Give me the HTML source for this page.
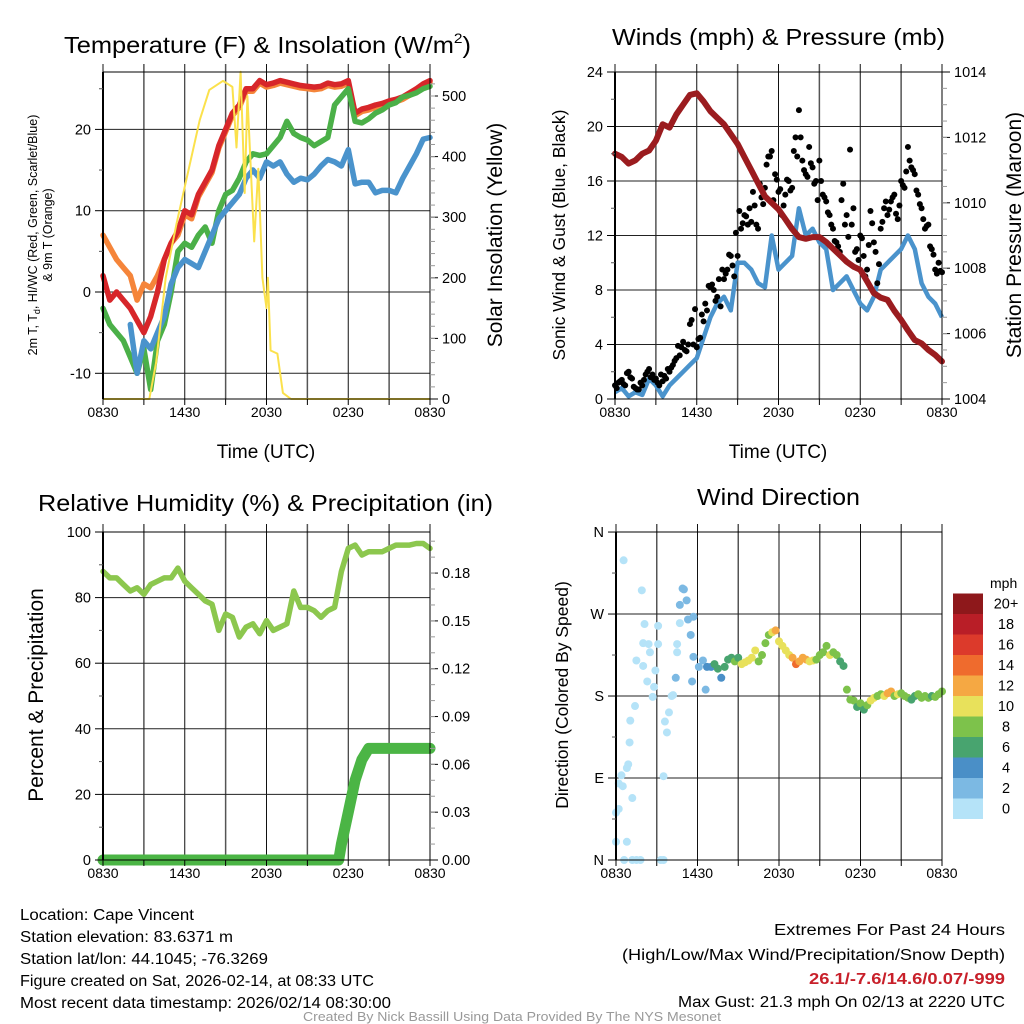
<!DOCTYPE html>
<html><head><meta charset="utf-8"><style>
html,body{margin:0;padding:0;background:#fff;}
svg{display:block;font-family:"Liberation Sans",sans-serif;}
.nar{font-family:"Liberation Sans Narrow","Liberation Sans",sans-serif;}
</style></head><body>
<svg id="fig" width="1024" height="1024" viewBox="0 0 1024 1024" xmlns="http://www.w3.org/2000/svg">
<rect width="1024" height="1024" fill="#fff"/>
<g id="layer-grid"></g>
<g id="layer-data"></g>
<g id="layer-axes"></g>
<!-- titles -->
<text x="64" y="53" font-size="23" textLength="407" lengthAdjust="spacingAndGlyphs" class="nar">Temperature (F) &amp; Insolation (W/m<tspan font-size="14" dy="-10">2</tspan><tspan dy="10">)</tspan></text>
<text x="612" y="45" font-size="23" textLength="333" lengthAdjust="spacingAndGlyphs" class="nar">Winds (mph) &amp; Pressure (mb)</text>
<text x="38" y="511" font-size="23" textLength="455" lengthAdjust="spacingAndGlyphs" class="nar">Relative Humidity (%) &amp; Precipitation (in)</text>
<text x="697" y="505" font-size="23" textLength="163" lengthAdjust="spacingAndGlyphs" class="nar">Wind Direction</text>
<!-- axis titles -->
<text x="266" y="458" font-size="19" text-anchor="middle">Time (UTC)</text>
<text x="778" y="458" font-size="19" text-anchor="middle">Time (UTC)</text>
<text transform="translate(37,235) rotate(-90)" font-size="12.5" text-anchor="middle">2m T, T<tspan font-size="9" dy="3">d</tspan><tspan dy="-3">, HI/WC (Red, Green, Scarlet/Blue)</tspan></text>
<text transform="translate(52,235) rotate(-90)" font-size="12.5" text-anchor="middle">&amp; 9m T (Orange)</text>
<text transform="translate(502,235) rotate(-90)" font-size="21" text-anchor="middle">Solar Insolation (Yellow)</text>
<text transform="translate(565,235) rotate(-90)" font-size="17.5" text-anchor="middle">Sonic Wind &amp; Gust (Blue, Black)</text>
<text transform="translate(1021,235) rotate(-90)" font-size="21" text-anchor="middle">Station Pressure (Maroon)</text>
<text transform="translate(43,695) rotate(-90)" font-size="21" text-anchor="middle">Percent &amp; Precipitation</text>
<text transform="translate(568,695) rotate(-90)" font-size="17.5" text-anchor="middle">Direction (Colored By Speed)</text>
<!-- legend title -->
<text x="990" y="588" font-size="14">mph</text>
<!-- footer -->
<g class="nar" font-size="15.5">
<text x="20" y="920" textLength="174" lengthAdjust="spacingAndGlyphs">Location: Cape Vincent</text>
<text x="20" y="942" textLength="213" lengthAdjust="spacingAndGlyphs">Station elevation: 83.6371 m</text>
<text x="20" y="964" textLength="248" lengthAdjust="spacingAndGlyphs">Station lat/lon: 44.1045; -76.3269</text>
<text x="20" y="986" textLength="354" lengthAdjust="spacingAndGlyphs">Figure created on Sat, 2026-02-14, at 08:33 UTC</text>
<text x="20" y="1008" textLength="371" lengthAdjust="spacingAndGlyphs">Most recent data timestamp: 2026/02/14 08:30:00</text>
</g>
<g class="nar" font-size="15.5" text-anchor="end">
<text x="1005" y="935" textLength="231" lengthAdjust="spacingAndGlyphs">Extremes For Past 24 Hours</text>
<text x="1005" y="960" textLength="383" lengthAdjust="spacingAndGlyphs">(High/Low/Max Wind/Precipitation/Snow Depth)</text>
<text x="1005" y="984" fill="#c8202a" font-weight="bold" textLength="196" lengthAdjust="spacingAndGlyphs">26.1/-7.6/14.6/0.07/-999</text>
<text x="1005" y="1007" textLength="327" lengthAdjust="spacingAndGlyphs">Max Gust: 21.3 mph On 02/13 at 2220 UTC</text>
</g>
<text class="nar" x="512" y="1021" font-size="12.5" fill="#999" text-anchor="middle" textLength="418" lengthAdjust="spacingAndGlyphs">Created By Nick Bassill Using Data Provided By The NYS Mesonet</text>
</svg>
<script>
// ---------- DATA ----------
const timeLabels = ["0830","1430","2030","0230","0830"];
const halfHours = [0,0.5,1,1.5,2,2.5,3,3.5,4,4.5,5,5.5,6,6.5,7,7.5,8,8.5,9,9.5,10,10.5,11,11.5,12,12.5,13,13.5,14,14.5,15,15.5,16,16.5,17,17.5,18,18.5,19,19.5,20,20.5,21,21.5,22,22.5,23,23.5,24];
const tempRed =    [2,-1,0,-1,-2,-3.5,-5,-3,0,4,6,7.5,10,9.5,12,13.5,15,18,20,22,23,25,25,26,25.5,25.7,26,25.8,25.6,25.4,25.3,25.2,25.3,25.7,25.5,25.6,26,22,22.5,22.7,23,23.2,23.5,23.7,24,24.5,25,25.6,26];
const tempOrange = [7,5.5,4,3,2,-1,1,0.5,2,4,6,7,9.5,9,11.7,13.2,14.7,17.7,19.7,21.7,22.7,24.7,24.7,25.7,25.2,25.4,25.7,25.5,25.3,25.1,25,24.9,25,25.4,25.2,25.3,25.7,21.7,22.2,22.4,22.7,22.9,23.2,23.4,23.7,24.2,24.7,25.3,25.8];
const tempGreen =  [-2,-4,-5,-6,-8,-10,-7,-12,-6,-4,0,5,6,5.5,7,8,6,10,12,12.5,14,16,17,16.8,17,18,19,21,19.5,19,18.7,18,18.5,19,23,24,25,21,20.8,21.3,22,22.4,23,23.3,24,24.2,24.5,25,25.3];
const tempBlue =   [null,null,null,null,-4,-10,-6,-7,-5,-3,1,3,4,3.5,3,5,7,9,10,11,12,14,15,14,16,15.5,16,14.5,13.5,14,13.8,14.5,15.5,16.3,16,15.5,17.5,13.3,13.5,13.5,12.2,12.5,12.5,12.2,14,15.5,17,18.8,19];
const solarHours =  [0,3.4,3.9,4.6,5.4,6.1,7.1,7.8,8.8,9.5,9.8,10.1,10.4,10.6,11.1,11.4,11.7,12,12.1,12.3,12.8,13.2,13.8,24];
const solarValues = [0,0,60,200,290,360,460,510,525,515,415,540,340,500,260,380,200,150,200,80,75,10,0,0];
const pressure = [1011.5,1011.4,1011.2,1011.3,1011.5,1011.6,1011.9,1012.4,1012.3,1012.7,1013.0,1013.3,1013.35,1013.1,1012.8,1012.6,1012.4,1012.1,1011.8,1011.4,1011.0,1010.6,1010.2,1010.0,1009.8,1009.5,1009.2,1008.95,1008.9,1008.95,1008.95,1008.8,1008.6,1008.4,1008.2,1008.05,1007.95,1007.6,1007.24,1007.1,1007.03,1006.7,1006.42,1006.1,1005.8,1005.7,1005.5,1005.35,1005.15];
const windSpeed = [0.5,0.8,0.2,0.5,0.3,1.5,1,0.2,1,1.5,2,2.5,3,4.5,6,7,7.5,6.5,10,10,9.5,8.5,8.2,12,9.5,10,10.5,14,12,12.5,11.5,11,8,8.5,9,8,7,6.5,7.5,9.5,10,10.5,11,12,11,8.5,7.5,7,6];
const gustA = [1,1.2,1.4,1.0, 2,1.5,0.8,0.7, 1.0,1.8,2.2,1.8, 1.5,1.0,1.3,1.5, 2.0,2.5,3.0,3.2, 4.2,3.5,5.5,4.0, 3.8,4.5,5.7,6.5, 8.2,8.0,7.5,6.8, 8.8,9.5,10.5,9.0, 10.5,12.5,13.5,12.8, 13.0,14.2,12.5,14.8, 15.5,17.8,18.2,16.5, 15.2,13.5,15.0,16.0, 15.5,19.2,21.2,17.5, 16.5,18.5,17.0,16.0, 17.5,15.0,14.5,13.5, 12.5,11.5,10.8,15.8, 13.5,18.3,14.0,11.0, 12.0,10.5,9.5,13.8, 11.5,8.5,12.5,14.0, 13.5,14.5,15.0,13.2, 16.0,15.5,18.5,17.0, 16.5,15.0,14.0,12.5, 12.8,11.0,9.5,10.0, 9.3];
const gustB = [0.8,1.3,1.1,1.9, 1.6,0.9,0.7,1.2, 1.4,2.0,1.6,1.4, 1.2,1.8,1.7,2.2, 2.3,2.8,3.9,3.8, 3.6,4.0,5.8,6.6, 4.4,6.2,7.0,8.3, 8.4,7.2,8.8,9.5, 9.2,10.6,9.8,12.2, 13.8,12.9,13.4,14.0, 15.2,12.8,15.8,14.3, 17.2,17.8,14.6,16.1, 15.4,14.2,16.1,15.3, 18.2,17.8,19.2,16.8, 16.3,17.3,15.8,14.6, 16.0,14.8,13.7,12.8, 11.6,11.2,14.6,12.8, 11.9,12.8,10.8,10.2, 11.8,9.0,11.3,12.9, 10.8,9.9,13.0,14.5, 13.9,14.8,13.6,14.2, 15.7,16.7,17.5,16.8, 15.3,14.3,13.2,12.7, 11.2,10.6,9.2,9.4];
const humidity = [88,86,86,84,82,83,81,84,85,86,86,89,85,83,81,79,78,70,75,74,68,71,72,69,73,70,71,72,82,77,77,76,74,76,77,88,95,96,93,94,94,94,95,96,96,96,96.5,96.5,95];
const precipHours =  [0,17.3,17.5,18,18.5,19,19.5,24];
const precipValues = [0,0,0.01,0.03,0.05,0.063,0.07,0.07];
const dirHours = [0.56,1.9,2.1,3.1,2.0,2.4,3.1,1.5,2.0,2.5,2.3,2.9,2.8,2.7,1.4,1.05,1.0,0.9,0.8,0.4,0.2,0.5,1.2,0.2,0,0,0.8,0.6,1.2,1.5,1.8,3.3,3.5,3.5,3.75,3.6,3.9,4.1,4.2,4.5,4.5,4.7,4.4,4.7,5.0,4.9,5.2,5.3,5.7,5.5,5.7,5.6,6.1,6.4,6.6,6.7,
  7,7.25,7.5,7.75,8,8.25,8.5,8.75,9,9.25,9.5,9.75,10,10.25,10.5,10.75,11,11.25,11.5,11.75,12,12.25,12.5,12.75,13,13.25,13.5,13.75,14,14.25,14.5,14.75,15,15.25,15.5,15.75,16,16.25,16.5,16.75,17,17.25,17.5,17.75,18,18.25,18.5,18.75,19,19.25,19.5,19.75,20,20.25,20.5,20.75,21,21.25,21.5,21.75,22,22.25,22.5,22.75,23,23.25,23.5,23.75,24];
const dirDegrees = [329,296,259,257,238,237,237,219,213,228,196,208,190,179,169,153,129,105,101,93,84,81,68,56,52,20,20,0,0,0,0,0,0,92,140,152,162,180,181,228,237,260,200,280,297,298,285,264,267,247,223,196,212,219,187,212,
  212,215,210,200,212,220,222,218,222,215,217,219,222,230,218,225,238,247,250,252,240,235,230,225,222,215,218,222,220,218,219,220,225,228,235,225,228,225,218,213,187,176,175,168,172,165,170,175,178,180,182,180,183,185,180,182,183,180,178,176,180,182,178,180,178,180,179,182,185];
const dirSpeeds = [0.5,0.5,0.5,0.5,0.5,0.5,0.5,0.5,0.5,0.5,0.5,0.5,0.5,0.5,0.5,0.5,0.5,0.5,0.5,0.5,0.5,0.5,0.5,0.5,0.5,0.5,0.5,0.5,0.5,0.5,0.5,0.5,0.5,0.5,0.5,0.5,0.5,0.5,0.5,0.5,0.5,0.5,3,3,2,2,2,2,2,3,2,3,2,2,3,4,
  5,6,6,4,6,7,7,8,6,10,10,10,10,10,8,8,8,9,11,12,10,10,10,10,12,14,13,12,12,11,10,9,8,8,8,10,8,8,7,6,8,8,8,7,8,7,9,10,10,8,8,10,12,12,9,10,8,8,8,7,7,8,8,8,8,7,8,8,8];
const legendLabels = ["0","2","4","6","8","10","12","14","16","18","20+"];
const legendColors = ["#b5e3f8","#7cb9e3","#4a8fc7","#48a46f","#7dc24b","#e8e15b","#f5a843","#ef6b2d","#dc3a2b","#b91e27","#8e181b"];

// ---------- HELPERS ----------
const NS="http://www.w3.org/2000/svg";
const gGrid=document.getElementById('layer-grid'), gData=document.getElementById('layer-data'), gAx=document.getElementById('layer-axes');
function mk(tag,attrs,parent){const e=document.createElementNS(NS,tag);for(const k in attrs)e.setAttribute(k,attrs[k]);parent.appendChild(e);return e;}
function pathFrom(xs,ys,xf,yf){let d='',pen=false;for(let i=0;i<xs.length;i++){if(ys[i]===null){pen=false;continue;}d+=(pen?'L':'M')+xf(xs[i]).toFixed(1)+','+yf(ys[i]).toFixed(1);pen=true;}return d;}

// axis functions
const xTL=h=>103+h*(327/24), yTemp=v=>292-v*8.13, ySolar=w=>399-w*0.606;
const xTR=h=>615+h*(327/24), yWind=v=>399-v*13.625, yPres=p=>399-(p-1004)*32.7;
const xBL=h=>103+h*(327/24), yRH=v=>860-v*3.28, yPcp=p=>860-p*1594;
const xBR=h=>616+h*(326/24), yDir=d=>860-d*0.911;

function panel(name,x0,x1,yt,yb,xf,hLines){
  for(let i=0;i<=8;i++){const x=xf(i*3);
    const l=mk('line',{x1:x,y1:yt-8,x2:x,y2:yb,stroke:i%2?'#555':'#111','stroke-width':i%2?1.5:1},gGrid);
    
    
    const t=mk('line',{x1:x,y1:yb,x2:x,y2:yb+6,stroke:'#000','stroke-width':1},gAx);
    
    
  }
  hLines.forEach(y=>{const l=mk('line',{x1:x0,y1:y,x2:x1,y2:y,stroke:'#222','stroke-width':1},gGrid);
    
    });
  const f=mk('rect',{x:x0,y:yt,width:x1-x0,height:yb-yt,fill:'none',stroke:'#000','stroke-width':1},gAx);
  
  
  const la=mk('line',{x1:x0,y1:yt,x2:x0,y2:yb,stroke:'#000','stroke-width':2},gAx);
  
  
  timeLabels.forEach((s,i)=>{const t=mk('text',{x:xf(i*6),y:yb+18,'font-size':14,'text-anchor':'middle'},gAx);t.textContent=s;
    
    });
}
function leftTicks(name,x0,vals,yf,labels,minor){
  vals.forEach((v,i)=>{const y=yf(v);
    const t=mk('line',{x1:x0-8,y1:y,x2:x0,y2:y,stroke:'#000'},gAx);
    
    
    const s=mk('text',{x:x0-12,y:y+5,'font-size':14.5,'text-anchor':'end'},gAx);s.textContent=labels[i];
    
    });
  (minor||[]).forEach(v=>{const y=yf(v);const t=mk('line',{x1:x0-4,y1:y,x2:x0,y2:y,stroke:'#555'},gAx);
    
    });
}
function rightTicks(name,x1,vals,yf,labels,minor){
  vals.forEach((v,i)=>{const y=yf(v);
    const t=mk('line',{x1:x1,y1:y,x2:x1+8,y2:y,stroke:'#000'},gAx);
    
    
    const s=mk('text',{x:x1+12,y:y+5,'font-size':14.5},gAx);s.textContent=labels[i];
    
    });
  (minor||[]).forEach(v=>{const y=yf(v);const t=mk('line',{x1:x1,y1:y,x2:x1+5,y2:y,stroke:'#999'},gAx);
    
    });
}
const range=(a,b,s)=>{const r=[];for(let v=a;v<=b+1e-9;v+=s)r.push(+v.toFixed(4));return r;};

// ---------- PANEL: temperature ----------
panel('temp',103,430,72,399,xTL,[20,10,0,-10].map(yTemp));
leftTicks('temp',103,[20,10,0,-10],yTemp,["20","10","0","-10"],[25,15,5,-5]);
rightTicks('solar',430,[0,100,200,300,400,500],ySolar,["0","100","200","300","400","500"],range(20,520,20));
[['temp-9m-orange',tempOrange,'#f5853a'],['temp-2m-red',tempRed,'#d7262a'],['dewpoint-green',tempGreen,'#4bb048'],['windchill-blue',tempBlue,'#4a93cc']].forEach(s=>{
  const p=mk('path',{d:pathFrom(halfHours,s[1],xTL,yTemp),fill:'none',stroke:s[2],'stroke-width':5.5,'stroke-linejoin':'round','stroke-linecap':'round'},gData);
  
  
});
const sol=mk('path',{d:pathFrom(solarHours,solarValues,xTL,ySolar),fill:'none',stroke:'#fbe14c','stroke-width':2,'stroke-linejoin':'round'},gData);



// ---------- PANEL: winds ----------
panel('wind',615,942,72,399,xTR,[4,8,12,16,20].map(yWind));
leftTicks('wind',615,[0,4,8,12,16,20,24],yWind,["0","4","8","12","16","20","24"],[2,6,10,14,18,22]);
rightTicks('pressure',942,[1004,1006,1008,1010,1012,1014],yPres,["1004","1006","1008","1010","1012","1014"],range(1004.5,1013.5,0.5));
const ws=mk('path',{d:pathFrom(halfHours,windSpeed,xTR,yWind),fill:'none',stroke:'#4a93cc','stroke-width':4.5,'stroke-linejoin':'round'},gData);


gustA.forEach((v,i)=>{const c=mk('circle',{cx:xTR(i*0.25),cy:yWind(v),r:3,fill:'#000'},gData);
  
  });
gustB.forEach((v,i)=>{const c=mk('circle',{cx:xTR(i*0.25+0.125),cy:yWind(v),r:3,fill:'#000'},gData);
  
  });
const pr=mk('path',{d:pathFrom(halfHours,pressure,xTR,yPres),fill:'none',stroke:'#9b1c1f','stroke-width':6,'stroke-linejoin':'round','stroke-linecap':'round'},gData);



// ---------- PANEL: humidity ----------
panel('rh',103,430,532,860,xBL,[20,40,60,80].map(yRH));
leftTicks('rh',103,[0,20,40,60,80,100],yRH,["0","20","40","60","80","100"],[10,30,50,70,90]);
rightTicks('precip',430,[0,0.03,0.06,0.09,0.12,0.15,0.18],yPcp,["0.00","0.03","0.06","0.09","0.12","0.15","0.18"],range(0.01,0.2,0.01));
const rh=mk('path',{d:pathFrom(halfHours,humidity,xBL,yRH),fill:'none',stroke:'#8cc74e','stroke-width':5.5,'stroke-linejoin':'round','stroke-linecap':'round'},gData);


const pc=mk('path',{d:pathFrom(precipHours,precipValues,xBL,yPcp),fill:'none',stroke:'#4bb545','stroke-width':11,'stroke-linejoin':'round','stroke-linecap':'round'},gData);



// ---------- PANEL: wind direction ----------
panel('dir',616,942,532,860,xBR,[90,180,270].map(yDir));
leftTicks('dir',616,[0,90,180,270,360],yDir,["N","E","S","W","N"],[45,135,225,315]);
const colorFor=s=>legendColors[Math.min(10,Math.floor(s/2))];
dirHours.forEach((h,i)=>{const c=mk('circle',{cx:xBR(h),cy:yDir(dirDegrees[i]),r:4,fill:colorFor(dirSpeeds[i])},gData);
  
  });
legendColors.forEach((col,i)=>{const y=819-(i+1)*20.5;
  const r=mk('rect',{x:953,y:y,width:30,height:20.5,fill:col},gAx);
  
  
  const t=mk('text',{x:1006,y:y+15,'font-size':14.5,'text-anchor':'middle'},gAx);t.textContent=legendLabels[i];
  
  });
</script>
</body></html>
